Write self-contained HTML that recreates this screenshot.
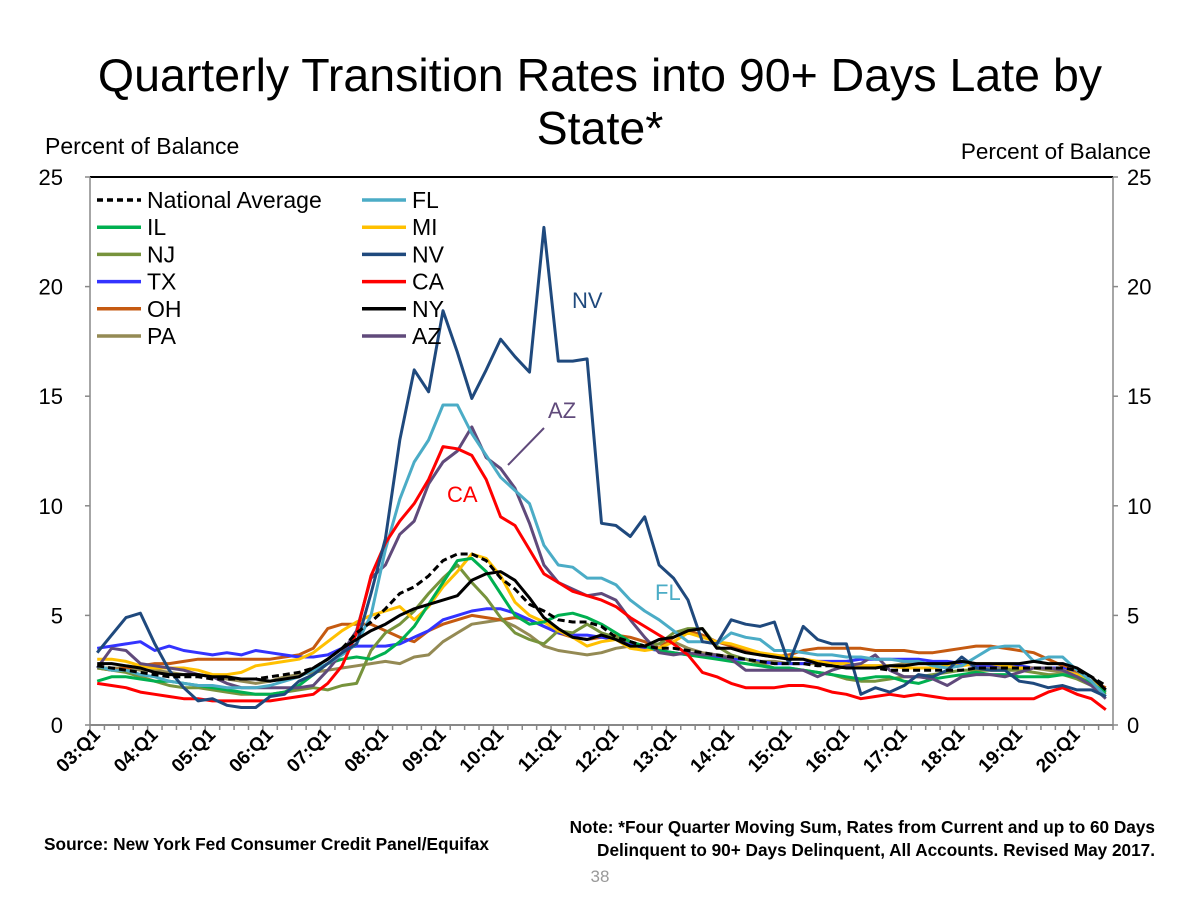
<!DOCTYPE html>
<html><head><meta charset="utf-8"><style>
html,body{margin:0;padding:0;background:#fff;}
svg{display:block;font-family:"Liberation Sans",Arial,sans-serif;}
</style></head><body>
<svg id="chart" width="1200" height="900" viewBox="0 0 1200 900" xmlns="http://www.w3.org/2000/svg">
<text x="600" y="91" font-size="46.5" text-anchor="middle">Quarterly Transition Rates into 90+ Days Late by</text>
<text x="600" y="144" font-size="46.5" text-anchor="middle">State*</text>
<text x="45" y="154" font-size="23">Percent of Balance</text>
<text x="1151" y="159" font-size="22.5" text-anchor="end">Percent of Balance</text>
<g id="axes"></g>
<g id="series"></g>
<g id="legend"></g>
<text x="572" y="308" font-size="22" fill="#1f497d">NV</text>
<text x="548" y="418" font-size="22" fill="#604a7b">AZ</text>
<line x1="544" y1="428" x2="508" y2="465" stroke="#604a7b" stroke-width="2"/>
<text x="447" y="502" font-size="22" fill="#ff0000">CA</text>
<text x="655" y="600" font-size="22" fill="#4bacc6">FL</text>
<text x="44" y="850" font-size="17.3" font-weight="bold">Source: New York Fed Consumer Credit Panel/Equifax</text>
<text x="1155" y="833" font-size="17.2" font-weight="bold" text-anchor="end">Note: *Four Quarter Moving Sum, Rates from Current and up to 60 Days</text>
<text x="1155" y="856" font-size="17.2" font-weight="bold" text-anchor="end">Delinquent to 90+ Days Delinquent, All Accounts. Revised May 2017.</text>
<text x="600" y="882" font-size="17" fill="#999" text-anchor="middle">38</text>
</svg>
<script>
const yTicks = [0, 5, 10, 15, 20, 25];
const xLabels = ["03:Q1","04:Q1","05:Q1","06:Q1","07:Q1","08:Q1","09:Q1","10:Q1","11:Q1","12:Q1","13:Q1","14:Q1","15:Q1","16:Q1","17:Q1","18:Q1","19:Q1","20:Q1"];
const seriesNames = ["PA","OH","TX","NJ","MI","IL","AZ","FL","CA","NV","NY","National Average"];
const NAT = [2.7,2.6,2.5,2.4,2.3,2.2,2.2,2.2,2.1,2.1,2.1,2.1,2.2,2.3,2.4,2.6,3.0,3.5,4.2,4.7,5.3,6.0,6.3,6.8,7.5,7.8,7.8,7.5,6.7,6.2,5.5,5.2,4.8,4.7,4.7,4.5,4.0,3.8,3.6,3.5,3.5,3.4,3.3,3.2,3.1,3.0,2.9,2.8,2.8,2.8,2.7,2.7,2.6,2.6,2.6,2.5,2.5,2.5,2.5,2.5,2.5,2.6,2.6,2.6,2.6,2.6,2.6,2.6,2.5,2.2,1.8];
const FL = [2.7,2.5,2.5,2.3,2.2,2.0,1.9,1.8,1.8,1.7,1.7,1.7,1.8,2.0,2.2,2.5,2.8,3.2,3.7,5.0,8.0,10.3,12.0,13.0,14.6,14.6,13.3,12.3,11.3,10.7,10.1,8.2,7.3,7.2,6.7,6.7,6.4,5.7,5.2,4.8,4.3,3.8,3.8,3.7,4.2,4.0,3.9,3.4,3.4,3.3,3.2,3.2,3.1,3.1,3.0,3.0,2.9,2.9,2.7,2.6,2.7,3.1,3.5,3.6,3.6,2.9,3.1,3.1,2.5,2.0,1.3];
const IL = [2.0,2.2,2.2,2.1,2.0,2.0,1.9,1.8,1.7,1.6,1.5,1.4,1.4,1.5,1.8,2.3,2.8,3.0,3.1,3.0,3.3,3.8,4.5,5.5,6.5,7.5,7.6,7.0,6.0,5.0,4.6,4.7,5.0,5.1,4.9,4.6,4.2,3.8,3.6,3.4,3.3,3.2,3.1,3.0,2.9,2.8,2.7,2.6,2.6,2.5,2.4,2.3,2.2,2.1,2.2,2.2,2.0,1.9,2.1,2.2,2.3,2.4,2.3,2.3,2.2,2.2,2.2,2.3,2.2,1.9,1.5];
const MI = [3.0,3.0,2.9,2.7,2.6,2.6,2.6,2.5,2.3,2.3,2.4,2.7,2.8,2.9,3.0,3.3,3.8,4.3,4.7,5.0,5.2,5.4,4.8,5.4,6.3,7.0,7.8,7.6,6.8,5.6,5.0,4.7,4.3,4.0,3.6,3.8,3.9,3.5,3.4,3.5,3.8,4.2,4.0,3.8,3.7,3.5,3.3,3.2,3.1,3.0,2.9,2.8,2.8,2.7,2.7,2.7,2.6,2.6,2.6,2.7,2.7,2.8,2.8,2.7,2.6,2.6,2.6,2.5,2.3,2.0,1.6];
const NJ = [2.6,2.5,2.4,2.2,2.0,1.8,1.7,1.7,1.6,1.5,1.4,1.4,1.4,1.5,1.6,1.7,1.6,1.8,1.9,3.4,4.2,4.6,5.2,6.0,6.7,7.3,6.5,5.8,4.9,4.2,3.9,3.7,4.3,4.2,4.6,4.2,4.0,3.8,3.6,3.7,4.2,4.4,4.4,3.6,3.2,3.0,2.8,2.6,2.6,2.5,2.4,2.3,2.1,2.0,2.0,2.1,2.2,2.2,2.3,2.4,2.5,2.5,2.5,2.5,2.5,2.4,2.3,2.3,2.1,1.8,1.4];
const NV = [3.3,4.1,4.9,5.1,3.7,2.5,1.7,1.1,1.2,0.9,0.8,0.8,1.3,1.4,2.0,2.3,2.8,3.3,3.7,6.0,8.5,13.0,16.2,15.2,18.9,17.0,14.9,16.2,17.6,16.8,16.1,22.7,16.6,16.6,16.7,9.2,9.1,8.6,9.5,7.3,6.7,5.7,3.8,3.7,4.8,4.6,4.5,4.7,2.8,4.5,3.9,3.7,3.7,1.4,1.7,1.5,1.8,2.3,2.2,2.5,3.1,2.6,2.5,2.5,2.0,1.9,1.7,1.8,1.6,1.6,1.3];
const TX = [3.5,3.6,3.7,3.8,3.4,3.6,3.4,3.3,3.2,3.3,3.2,3.4,3.3,3.2,3.1,3.1,3.2,3.5,3.6,3.6,3.6,3.7,4.0,4.3,4.8,5.0,5.2,5.3,5.3,5.1,4.8,4.5,4.2,4.1,4.1,4.0,3.9,3.7,3.5,3.4,3.3,3.2,3.2,3.1,3.0,3.0,2.9,2.8,2.8,2.8,2.9,2.9,2.9,3.0,3.0,3.0,3.0,3.0,2.9,2.9,2.8,2.7,2.7,2.7,2.7,2.6,2.6,2.6,2.3,1.9,1.5];
const CA = [1.9,1.8,1.7,1.5,1.4,1.3,1.2,1.2,1.1,1.1,1.1,1.1,1.1,1.2,1.3,1.4,1.9,2.7,4.2,6.8,8.3,9.3,10.1,11.2,12.7,12.6,12.3,11.2,9.5,9.1,8.0,6.9,6.5,6.1,5.9,5.7,5.4,4.9,4.5,4.1,3.7,3.2,2.4,2.2,1.9,1.7,1.7,1.7,1.8,1.8,1.7,1.5,1.4,1.2,1.3,1.4,1.3,1.4,1.3,1.2,1.2,1.2,1.2,1.2,1.2,1.2,1.5,1.7,1.4,1.2,0.7];
const OH = [2.6,2.5,2.6,2.7,2.8,2.8,2.9,3.0,3.0,3.0,3.0,3.0,3.0,3.1,3.2,3.5,4.4,4.6,4.6,4.6,4.3,4.0,3.8,4.3,4.6,4.8,5.0,4.9,4.8,4.9,4.8,4.5,4.2,4.0,3.9,4.0,4.1,4.0,3.8,3.5,4.0,4.3,4.1,3.8,3.6,3.4,3.2,3.1,3.2,3.4,3.5,3.5,3.5,3.5,3.4,3.4,3.4,3.3,3.3,3.4,3.5,3.6,3.6,3.5,3.4,3.3,3.0,2.7,2.4,2.0,1.7];
const NY = [2.8,2.8,2.7,2.6,2.4,2.3,2.3,2.3,2.2,2.2,2.1,2.1,2.0,2.1,2.2,2.6,3.0,3.5,3.9,4.3,4.6,5.0,5.3,5.5,5.7,5.9,6.6,6.9,7.0,6.6,5.8,4.9,4.4,4.0,3.9,4.1,3.9,3.6,3.6,3.9,4.0,4.3,4.4,3.5,3.5,3.3,3.2,3.1,3.0,3.0,2.8,2.7,2.6,2.6,2.6,2.7,2.7,2.8,2.8,2.8,2.9,2.8,2.8,2.8,2.8,2.9,2.8,2.8,2.6,2.2,1.6];
const PA = [2.6,2.6,2.6,2.5,2.5,2.4,2.3,2.3,2.2,2.1,2.0,1.9,2.0,2.2,2.3,2.4,2.5,2.6,2.7,2.8,2.9,2.8,3.1,3.2,3.8,4.2,4.6,4.7,4.8,4.5,4.1,3.6,3.4,3.3,3.2,3.3,3.5,3.6,3.6,3.7,3.8,3.5,3.3,3.2,3.1,3.0,2.9,2.9,2.8,2.8,2.8,2.8,2.8,2.7,2.7,2.7,2.8,2.8,2.8,2.8,2.8,2.7,2.6,2.6,2.6,2.6,2.5,2.4,2.3,2.0,1.5];
const AZ = [2.6,3.5,3.4,2.8,2.7,2.6,2.5,2.3,2.2,1.9,1.7,1.7,1.7,1.7,1.7,1.8,2.5,3.3,4.3,6.7,7.3,8.7,9.3,11.0,12.0,12.5,13.6,12.2,11.7,10.8,9.2,7.3,6.5,6.2,5.9,6.0,5.7,4.8,4.0,3.3,3.2,3.3,3.2,3.2,3.0,2.5,2.5,2.5,2.5,2.5,2.2,2.5,2.7,2.8,3.2,2.5,2.2,2.2,2.1,1.8,2.2,2.3,2.3,2.2,2.4,2.6,2.6,2.5,2.2,1.8,1.2];

const NS = "http://www.w3.org/2000/svg";
const L = 90, R = 1113, T = 177, B = 725, NQ = 71;
const step = (R - L) / NQ;
function xPos(i) { return L + step * (i + 0.5); }
function yPos(v) { return B - (v / 25) * (B - T); }
function mk(tag, attrs, parent) { const e = document.createElementNS(NS, tag); for (const k in attrs) e.setAttribute(k, attrs[k]); parent.appendChild(e); return e; }

const axes = document.getElementById('axes');
const topLine = mk('line', {x1: L, y1: T, x2: R, y2: T, stroke: '#000', 'stroke-width': 2}, axes);


const xAxis = mk('line', {x1: L, y1: B, x2: R, y2: B, stroke: '#888', 'stroke-width': 2}, axes);


const lAxis = mk('line', {x1: L, y1: T, x2: L, y2: B, stroke: '#888', 'stroke-width': 1.5}, axes);


const rAxis = mk('line', {x1: R, y1: T, x2: R, y2: B, stroke: '#888', 'stroke-width': 1.5}, axes);


for (const t of yTicks) {
  const y = yPos(t);
  const lt = mk('text', {x: 63, y: y + 8, 'font-size': 22, 'text-anchor': 'end'}, axes);
  lt.textContent = t;
  
  
  const rt = mk('text', {x: 1127, y: y + 8, 'font-size': 22}, axes);
  rt.textContent = t;
  
  
  const tk = mk('line', {x1: L - 5, y1: y, x2: L, y2: y, stroke: '#888', 'stroke-width': 1.5}, axes);
  
  
  const tk2 = mk('line', {x1: R, y1: y, x2: R + 5, y2: y, stroke: '#888', 'stroke-width': 1.5}, axes);
  
  
}
for (let i = 0; i <= NQ; i++) {
  const x = L + step * i;
  const tk = mk('line', {x1: x, y1: B, x2: x, y2: B + 5, stroke: '#888', 'stroke-width': 1.5}, axes);
  
  
}
xLabels.forEach((lab, k) => {
  const x = xPos(k * 4) + 4, y = B + 11;
  const t = mk('text', {x: x, y: y, 'font-size': 19, 'font-weight': 'bold', 'text-anchor': 'end', transform: `rotate(-45 ${x} ${y})`}, axes);
  t.textContent = lab;
  
  
});

const styles = {
  "National Average": {data: NAT, color: '#000', dash: '7,4'},
  FL: {data: FL, color: '#4bacc6'}, IL: {data: IL, color: '#00b050'}, MI: {data: MI, color: '#ffc000'},
  NJ: {data: NJ, color: '#77933c'}, NV: {data: NV, color: '#1f497d'}, TX: {data: TX, color: '#3333ff'},
  CA: {data: CA, color: '#ff0000'}, OH: {data: OH, color: '#c55a11'}, NY: {data: NY, color: '#000'},
  PA: {data: PA, color: '#948a54'}, AZ: {data: AZ, color: '#604a7b'}
};
const sg = document.getElementById('series');
for (const name of seriesNames) {
  const s = styles[name];
  const d = s.data.map((v, i) => (i ? 'L' : 'M') + xPos(i).toFixed(1) + ',' + yPos(v).toFixed(1)).join('');
  const p = mk('path', {d: d, fill: 'none', stroke: s.color, 'stroke-width': 3, 'stroke-linejoin': 'round'}, sg);
  if (s.dash) p.setAttribute('stroke-dasharray', s.dash);
  
  
}

const legendItems = [["National Average", 0, 0], ["IL", 0, 1], ["NJ", 0, 2], ["TX", 0, 3], ["OH", 0, 4], ["PA", 0, 5],
  ["FL", 1, 0], ["MI", 1, 1], ["NV", 1, 2], ["CA", 1, 3], ["NY", 1, 4], ["AZ", 1, 5]];
const lg = document.getElementById('legend');
for (const [name, col, row] of legendItems) {
  const s = styles[name];
  const x0 = col ? 362 : 97, y = 200 + row * 27.2;
  const ln = mk('line', {x1: x0, y1: y, x2: x0 + 44, y2: y, stroke: s.color, 'stroke-width': 3.5}, lg);
  if (s.dash) ln.setAttribute('stroke-dasharray', '6,4');
  
  
  const t = mk('text', {x: x0 + 50, y: y + 8, 'font-size': 23}, lg);
  t.textContent = name;
  
  
}
</script>
</body></html>
